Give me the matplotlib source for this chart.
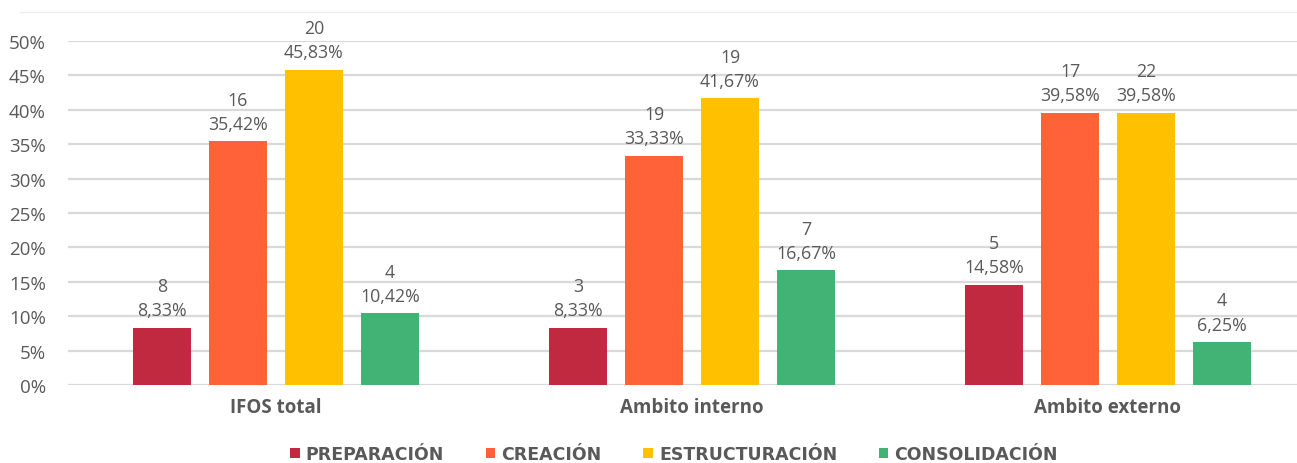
import matplotlib.pyplot as plt
import numpy as np

categories = ["IFOS total", "Ambito interno", "Ambito externo"]
series = ["PREPARACIÓN", "CREACIÓN", "ESTRUCTURACIÓN", "CONSOLIDACIÓN"]
colors = ["#C0293F", "#FF6138", "#FFC000", "#43B275"]

preparacion = [8.33, 8.33, 14.58]
creacion = [35.42, 33.33, 39.58]
estructuracion = [45.83, 41.67, 39.58]
consolidacion = [10.42, 16.67, 6.25]
pct = [preparacion, creacion, estructuracion, consolidacion]

n_prep = [8, 3, 5]
n_crea = [16, 19, 17]
n_estr = [20, 19, 22]
n_cons = [4, 7, 4]
counts = [n_prep, n_crea, n_estr, n_cons]

txt = "#595959"
plt.rcParams['font.family'] = ['Open Sans', 'DejaVu Sans']

W, H = 1297, 464
fig = plt.figure(figsize=(W / 100, H / 100), dpi=100)
ax = fig.add_axes([68 / W, (H - 386) / H, 1248 / W, 344 / H])

x = np.arange(len(categories))
stride = 76 / 416
width = 58 / 416
for i, (vals, cnts) in enumerate(zip(pct, counts)):
    pos = x + (i - 1.5) * stride
    v = np.array(vals) / 100
    ax.bar(pos, v, width, color=colors[i], label=series[i], zorder=3)
    for px, py, c, p in zip(pos, v, cnts, vals):
        lab = f"{c}\n{p:.2f}%".replace(".", ",")
        ax.annotate(lab, (px, py), xytext=(0, 6), textcoords="offset points",
                    ha="center", va="bottom", fontsize=12.8, color=txt,
                    linespacing=1.45)

ax.set_xlim(-0.5, 2.5)
ax.set_ylim(0, 0.5)
ax.set_yticks(np.arange(0, 0.51, 0.05))
ax.set_yticklabels([f"{int(round(t * 100))}%" for t in np.arange(0, 0.51, 0.05)])
ax.grid(axis="y", color="#D9D9D9", linewidth=1.6, zorder=0)
ax.set_xticks(x)
ax.set_xticklabels(categories, fontweight="bold")
ax.tick_params(axis="both", length=0, colors=txt)
ax.tick_params(axis="y", labelsize=13.5, pad=16)
ax.tick_params(axis="x", labelsize=13.5, pad=9)
for s in ax.spines.values():
    s.set_visible(False)

# faint top border of the chart area
fig.add_artist(plt.Line2D([20 / W, 1], [1 - 13 / H, 1 - 13 / H],
                          color="#EDEDED", linewidth=1))

leg = fig.legend(loc="center", bbox_to_anchor=(674 / W, 1 - 455 / H), ncol=4,
                 frameon=False, handlelength=0.55, handleheight=0.55,
                 handletextpad=0.35, columnspacing=2.4,
                 prop={"weight": "bold", "size": 12.5, "family": "DejaVu Sans"})
for t in leg.get_texts():
    t.set_color(txt)

fig.savefig("out.png", dpi=100)
